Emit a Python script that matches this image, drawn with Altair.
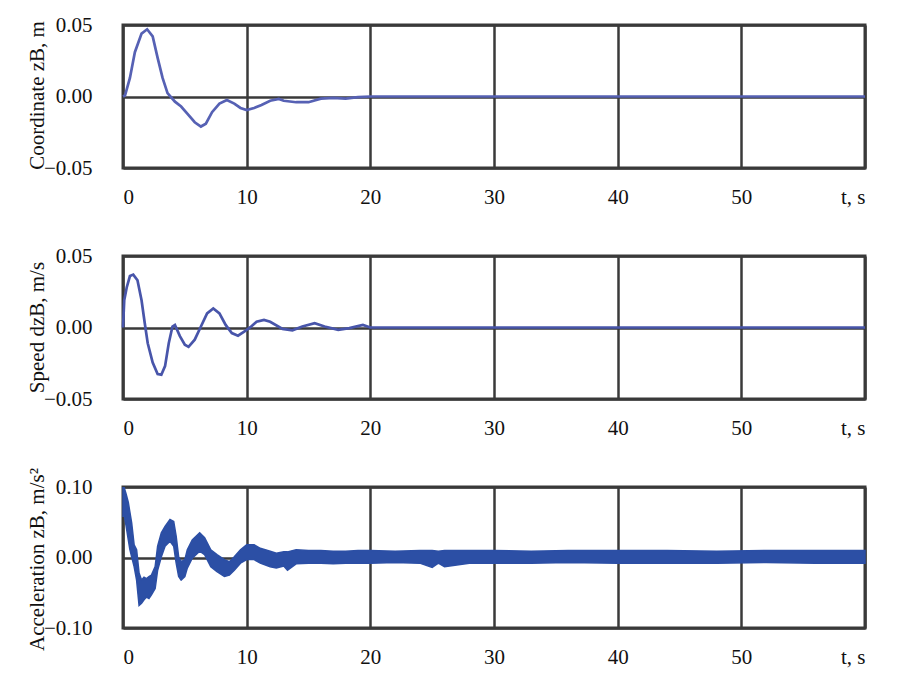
import altair as alt
import pandas as pd

# ---------------- data ----------------
t_coord = [0, 0.16, 0.56, 0.96, 1.5, 1.95, 2.4, 2.8, 3.2, 3.6, 4.2, 4.7, 5.2, 5.8, 6.3, 6.7,
           7.2, 7.8, 8.4, 9.0, 9.5, 10.0, 10.6, 11.2, 11.9, 12.6, 13, 14, 15, 16, 17, 18,
           19, 20, 24, 30, 40, 50, 60]
coord = [0, 0.0007, 0.013, 0.031, 0.044, 0.047, 0.042, 0.027, 0.013, 0.0024, -0.0036,
         -0.007, -0.012, -0.018, -0.021, -0.019, -0.011, -0.005, -0.0024, -0.005, -0.008,
         -0.0095, -0.008, -0.006, -0.003, -0.0017, -0.003, -0.004, -0.004, -0.0015, -0.001,
         -0.0015, -0.0005, 0, 0, 0, 0, 0, 0]

t_speed = [0, 0.1, 0.3, 0.56, 0.83, 1.17, 1.5, 1.76, 2.0, 2.4, 2.8, 3.1, 3.4, 3.7, 4.0,
           4.2, 4.6, 5.0, 5.3, 5.8, 6.3, 6.8, 7.3, 7.8, 8.3, 8.8, 9.3, 9.8, 10.3, 10.8,
           11.4, 11.9, 12.9, 13.7, 14.5, 15.5, 16.3, 17.4, 18.3, 19.4, 20, 30, 40, 50, 60]
speed = [0, 0.019, 0.028, 0.036, 0.037, 0.033, 0.019, 0.003, -0.011, -0.0245, -0.0326,
         -0.033, -0.027, -0.011, 0.0007, 0.0018, -0.006, -0.012, -0.0135, -0.0085, 0.0007,
         0.0099, 0.0133, 0.0099, 0.0018, -0.0039, -0.0057, -0.0028, 0.0002, 0.004, 0.0053,
         0.004, -0.001, -0.002, 0.0007, 0.003, 0.0007, -0.0016, -0.0004, 0.0018, 0, 0, 0, 0, 0]

t_acc = [0, 0.1, 0.25, 0.43, 0.55, 0.7, 0.9, 1.1, 1.3, 1.5, 1.7, 1.9, 2.1, 2.3, 2.6, 2.8,
         3.1, 3.4, 3.8, 4.1, 4.3, 4.5, 4.7, 5.0, 5.2, 5.6, 6.2, 6.6, 7.1, 7.6, 8.2, 8.6,
         9.0, 9.5, 10.0, 10.6, 11.1, 11.9, 12.4, 13, 13.3, 14, 15, 16, 17, 18, 19, 20,
         22, 24, 25, 25.5, 26, 28, 30, 33, 36, 40, 44, 48, 52, 56, 60]
acc_hi = [0.099, 0.099, 0.09, 0.078, 0.065, 0.049, 0.018, 0.011, -0.022, -0.032, -0.028,
          -0.03, -0.027, -0.025, -0.013, 0.016, 0.035, 0.044, 0.054, 0.051, 0.03, 0.001,
          -0.006, -0.003, 0.011, 0.025, 0.035, 0.028, 0.011, 0.004, -0.003, -0.006, 0.001,
          0.011, 0.018, 0.018, 0.013, 0.009, 0.006, 0.008, 0.008, 0.011, 0.010, 0.010,
          0.009, 0.009, 0.010, 0.010, 0.009, 0.010, 0.010, 0.009, 0.010, 0.010, 0.010,
          0.009, 0.010, 0.010, 0.010, 0.009, 0.010, 0.010, 0.010]
acc_lo = [0.059, 0.06, 0.045, 0.025, 0.012, 0.001, -0.013, -0.032, -0.068, -0.065, -0.06,
          -0.056, -0.058, -0.053, -0.044, -0.018, 0.001, 0.016, 0.023, 0.016, -0.008,
          -0.027, -0.032, -0.027, -0.015, -0.001, 0.009, 0.004, -0.013, -0.02, -0.027,
          -0.025, -0.018, -0.008, -0.003, -0.003, -0.008, -0.013, -0.015, -0.012, -0.018,
          -0.009, -0.008, -0.008, -0.009, -0.008, -0.008, -0.008, -0.007, -0.008, -0.014,
          -0.008, -0.013, -0.008, -0.008, -0.008, -0.007, -0.008, -0.008, -0.008, -0.007,
          -0.008, -0.008]

x_ticks = [0, 10, 20, 30, 40, 50, 60]

# ---------------- styling ----------------
FONT = "Liberation Serif"
GRID = "#3a3a3a"
LINE1 = "#5661b4"
LINE2 = "#4855aa"
ACC = "#2c4fa5"
W = 742


def x_enc():
    return alt.X(
        "t:Q",
        scale=alt.Scale(domain=[0, 60], nice=False, zero=False),
        axis=alt.Axis(
            values=x_ticks,
            labelExpr="datum.value == 60 ? 't, s' : datum.label",
            title=None,
            labelPadding=18,
            labelOverlap=False,
        ),
    )


def y_axis(title, vals, ty):
    return alt.Axis(
        values=vals,
        format=".2f",
        title=title,
        labelPadding=31,
        titleX=-76,
        titleY=ty,
    )


df1 = pd.DataFrame({"t": t_coord, "v": coord})
df2 = pd.DataFrame({"t": t_speed, "v": speed})
df3 = pd.DataFrame({"t": t_acc, "hi": acc_hi, "lo": acc_lo})

p1 = alt.Chart(df1).mark_line(color=LINE1, strokeWidth=2.7).encode(
    x=x_enc(),
    y=alt.Y("v:Q", scale=alt.Scale(domain=[-0.05, 0.05], nice=False),
            axis=y_axis("Coordinate zB, m", [-0.05, 0, 0.05], 70)),
).properties(width=W, height=143)

p2 = alt.Chart(df2).mark_line(color=LINE2, strokeWidth=2.7).encode(
    x=x_enc(),
    y=alt.Y("v:Q", scale=alt.Scale(domain=[-0.05, 0.05], nice=False),
            axis=y_axis("Speed dzB, m/s", [-0.05, 0, 0.05], 71)),
).properties(width=W, height=143)

p3 = alt.Chart(df3).mark_area(color=ACC, stroke=ACC, strokeWidth=1.5, opacity=1).encode(
    x=x_enc(),
    y=alt.Y("hi:Q", scale=alt.Scale(domain=[-0.1, 0.1], nice=False),
            axis=y_axis("Acceleration zB, m/s²", [-0.1, 0, 0.1], 72)),
    y2="lo:Q",
).properties(width=W, height=141)

chart = alt.vconcat(p1, p2, p3, spacing=88, bounds="flush").properties(
    padding={"left": 16, "top": 4, "right": 5, "bottom": 5},
    background="white",
).configure_view(
    stroke=GRID, strokeWidth=3
).configure_axis(
    domain=False,
    ticks=False,
    grid=True,
    gridColor=GRID,
    gridWidth=2.5,
    gridOpacity=1,
    labelFont=FONT,
    labelFontSize=21,
    labelColor="#111111",
    titleFont=FONT,
    titleFontSize=21,
    titleFontWeight="normal",
    titleColor="#111111",
)

chart.save("out.html", embed_options={"renderer": "svg", "actions": False})
